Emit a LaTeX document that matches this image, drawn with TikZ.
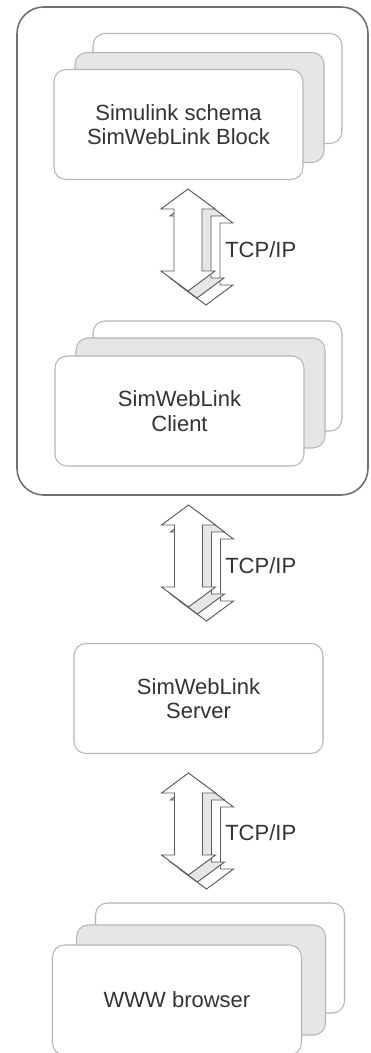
\documentclass[tikz,border=0pt]{standalone}
\usepackage{fontspec}
\setmainfont{Liberation Sans}
\usetikzlibrary{positioning}
\definecolor{cardline}{HTML}{B5B5B5}
\definecolor{cardgray}{HTML}{E6E6E6}
\definecolor{boxline}{HTML}{707070}
\definecolor{arrowline}{HTML}{5A5A5A}
\definecolor{txt}{HTML}{333333}
\tikzset{
  card/.style={draw=cardline, line width=0.8pt, rounded corners=9pt, fill=white,
    minimum width=186.75pt, minimum height=82.5pt, inner sep=0pt, align=center,
    text=txt, font=\fontsize{16.5}{18.5}\selectfont},
  backcard/.style={card, fill=white},
  midcard/.style={card, fill=cardgray},
  group/.style={draw=boxline, line width=1.2pt, rounded corners=20pt,
    minimum width=263.25pt, minimum height=366pt, inner sep=0pt},
  proto/.style={anchor=west, inner sep=0pt, text=txt, font=\fontsize{16.5}{18.5}\selectfont},
  dblarrow/.pic={
    \foreach \d/\f in {2/white,1/cardgray,0/white}
      \filldraw[draw=arrowline, line width=0.7pt, fill=\f, shift={(9*\d,7*\d)}]
        (0,0) -- (27,20) -- (14,20) -- (14,82) -- (27,82) -- (0,102)
        -- (-27,82) -- (-14,82) -- (-14,20) -- (-27,20) -- cycle;
  }
}
\begin{document}
\begin{tikzpicture}[x=0.75pt, y=-0.75pt]
\useasboundingbox (0,0) rectangle (371,1053);

% client side group
\node[group] (simside) at (192.5,251) {};

% Simulink block stack
\coordinate (blockpos) at (178.5,124.5);
\node[backcard] (block3) at ([shift={(39,-36)}]blockpos) {};
\node[midcard] (block2) at ([shift={(21,-17)}]blockpos) {};
\node[card] (block) at (blockpos) {Simulink schema\\SimWebLink Block};

% client stack
\coordinate (clientpos) at (179.5,411);
\node[backcard] (client3) at ([shift={(38,-35)}]clientpos) {};
\node[midcard] (client2) at ([shift={(21,-18)}]clientpos) {};
\node[card] (client) at (clientpos) {SimWebLink\\Client};

% server
\node[card] (server) at (198.5,698.5) {SimWebLink\\Server};

% browser stack
\coordinate (browserpos) at (177,1000);
\node[backcard] (browser3) at ([shift={(43,-42)}]browserpos) {};
\node[midcard] (browser2) at ([shift={(24,-20)}]browserpos) {};
\node[card] (browser) at (browserpos) {WWW browser};

% links
\coordinate (link1) at (188,189);
\coordinate (link2) at (188.5,505);
\coordinate (link3) at (188.5,773);
\pic at (link1) {dblarrow};
\pic at (link2) {dblarrow};
\pic at (link3) {dblarrow};
\node[proto] (tcp1) at (225,250) {TCP/IP};
\node[proto] (tcp2) at (225,566) {TCP/IP};
\node[proto] (tcp3) at (225,833) {TCP/IP};
\end{tikzpicture}
\end{document}
